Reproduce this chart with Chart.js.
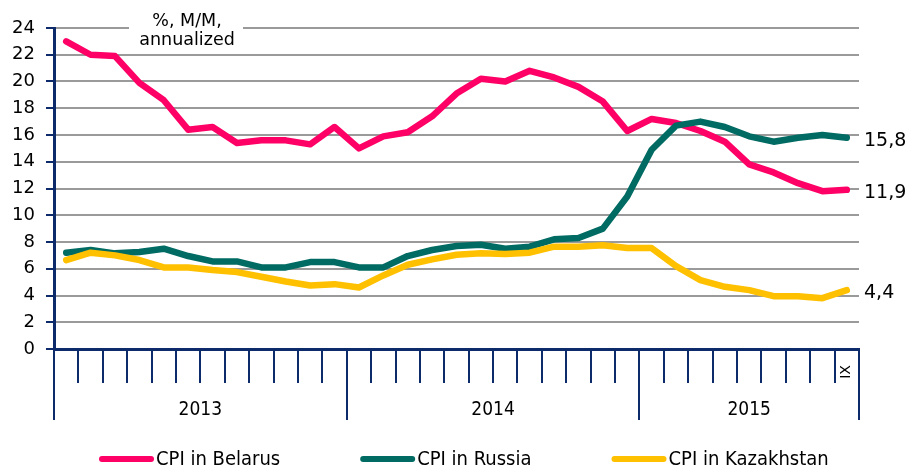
<!DOCTYPE html>
<html>
<head>
<meta charset="utf-8">
<script src="https://cdn.jsdelivr.net/npm/chart.js@4.4.0/dist/chart.umd.min.js"></script>
<style>
  html, body { margin: 0; padding: 0; background: #fff; }
  #wrap { width: 910px; height: 473px; position: relative; }
</style>
</head>
<body>
<div id="wrap"><canvas id="cpiChart"></canvas></div>
<script>
const years = ['2013', '2014', '2015'];
const roman = ['I', 'II', 'III', 'IV', 'V', 'VI', 'VII', 'VIII', 'IX', 'X', 'XI', 'XII'];
const months = [].concat(roman, roman, roman.slice(0, 9));
const shownMonth = 'IX';

const belarus = [23.0, 22.0, 21.9, 19.9, 18.6, 16.4, 16.6, 15.4, 15.6, 15.6, 15.3,
                 16.6, 15.0, 15.9, 16.2, 17.4, 19.1, 20.2, 20.0, 20.8, 20.3, 19.6,
                 18.5, 16.3, 17.2, 16.9, 16.3, 15.5, 13.8, 13.2, 12.4, 11.8, 11.9];
const russia = [7.2, 7.4, 7.15, 7.25, 7.5, 6.95, 6.55, 6.55, 6.1, 6.1, 6.5,
                6.5, 6.1, 6.1, 6.95, 7.4, 7.7, 7.8, 7.5, 7.65, 8.2, 8.3,
                9.0, 11.4, 14.9, 16.7, 17.0, 16.6, 15.9, 15.5, 15.8, 16.0, 15.8];
const kazakhstan = [6.65, 7.2, 7.0, 6.65, 6.1, 6.1, 5.9, 5.75, 5.4, 5.05, 4.75,
                    4.85, 4.6, 5.5, 6.3, 6.7, 7.05, 7.15, 7.1, 7.2, 7.65, 7.65,
                    7.75, 7.55, 7.55, 6.2, 5.15, 4.65, 4.4, 3.95, 3.95, 3.8, 4.4];

const unitTitle = ['%, M/M,', 'annualized'];
const navy = '#0d2a6b';

// --- Extra drawing: title box, year groups, end labels, legend ---
const decorPlugin = {
    id: 'decor',
    beforeDatasetsDraw(chart) {
        const ctx = chart.ctx;
        ctx.save();
        ctx.fillStyle = '#fff';
        ctx.fillRect(129, 4, 114, 46);
        ctx.fillStyle = '#000';
        ctx.font = '17.5px "DejaVu Sans"';
        ctx.textAlign = 'center';
        ctx.textBaseline = 'alphabetic';
        ctx.fillText(unitTitle[0], 187, 26);
        ctx.fillText(unitTitle[1], 187, 45);
        ctx.restore();
    },
    afterDraw(chart) {
        const {ctx, scales: {x, y}} = chart;
        const base = y.getPixelForValue(0);
        ctx.save();

        // long ticks at year boundaries
        const boundary = i => {
            if (i === 0) return x.left;
            if (i === months.length) return x.right;
            return (x.getPixelForValue(i - 1) + x.getPixelForValue(i)) / 2;
        };
        const cuts = [0, 12, 24, months.length];
        ctx.strokeStyle = navy;
        ctx.lineWidth = 2;
        cuts.forEach(i => {
            const px = Math.round(boundary(i));
            ctx.beginPath();
            ctx.moveTo(px, base);
            ctx.lineTo(px, base + 71);
            ctx.stroke();
        });

        // year labels
        ctx.fillStyle = '#000';
        ctx.font = '19px "DejaVu Sans Condensed"';
        ctx.textAlign = 'center';
        ctx.textBaseline = 'middle';
        years.forEach((yr, k) => {
            const cx = (boundary(cuts[k]) + boundary(cuts[k + 1])) / 2;
            ctx.fillText(yr, cx, base + 61);
        });

        // last month label, rotated
        const li = months.length - 1;
        ctx.save();
        ctx.translate(x.getPixelForValue(li), base + 23);
        ctx.rotate(-Math.PI / 2);
        ctx.font = '14px "DejaVu Sans"';
        ctx.fillText(shownMonth, 0, 0);
        ctx.restore();

        // end-of-series value labels
        ctx.font = '19px "DejaVu Sans"';
        ctx.textAlign = 'left';
        chart.data.datasets.forEach(ds => {
            const v = ds.data[ds.data.length - 1];
            ctx.fillText(v.toFixed(1).replace('.', ','), x.right + 5, y.getPixelForValue(v) + 3);
        });

        // legend
        let lx = 99;
        const ly = 459;
        ctx.font = '20px "DejaVu Sans Condensed"';
        chart.data.datasets.forEach(ds => {
            ctx.strokeStyle = ds.borderColor;
            ctx.lineWidth = 6;
            ctx.lineCap = 'round';
            ctx.beginPath();
            ctx.moveTo(lx + 3, ly);
            ctx.lineTo(lx + 52, ly);
            ctx.stroke();
            ctx.fillStyle = '#000';
            ctx.fillText(ds.label, lx + 57, ly + 1);
            lx += 57 + ctx.measureText(ds.label).width + 80;
        });
        ctx.restore();
    }
};

const lineSet = (label, data, color, order) => ({
    label: label,
    data: data,
    borderColor: color,
    backgroundColor: color,
    borderWidth: 6.5,
    pointRadius: 0,
    tension: 0,
    borderCapStyle: 'round',
    borderJoinStyle: 'round',
    order: order
});

new Chart(document.getElementById('cpiChart'), {
    type: 'line',
    data: {
        labels: months,
        datasets: [
            lineSet('CPI in Belarus', belarus, '#ff0066', 3),
            lineSet('CPI in Russia', russia, '#006b63', 2),
            lineSet('CPI in Kazakhstan', kazakhstan, '#ffc000', 1)
        ]
    },
    options: {
        responsive: true,
        maintainAspectRatio: false,
        animation: false,
        layout: { padding: { left: 0, right: 51, top: 28, bottom: 0 } },
        plugins: {
            legend: { display: false },
            tooltip: { enabled: false }
        },
        scales: {
            x: {
                type: 'category',
                offset: true,
                afterFit: s => { s.height = 124; },
                grid: {
                    offset: true,
                    drawOnChartArea: false,
                    drawTicks: true,
                    tickLength: 34,
                    color: navy,
                    lineWidth: 2
                },
                border: { color: navy, width: 3 },
                ticks: { display: false }
            },
            y: {
                min: 0,
                max: 24,
                afterFit: s => { s.width = 54; },
                ticks: {
                    stepSize: 2,
                    color: '#000',
                    padding: 11,
                    font: { family: 'DejaVu Sans', size: 18 }
                },
                grid: {
                    color: ctx => ctx.tick && ctx.tick.value === 0 ? 'rgba(0,0,0,0)' : '#9a9a9a',
                    lineWidth: 2,
                    tickLength: 8,
                    tickColor: navy,
                    tickWidth: 2
                },
                border: { color: navy, width: 3 }
            }
        }
    },
    plugins: [decorPlugin]
});
</script>
</body>
</html>
